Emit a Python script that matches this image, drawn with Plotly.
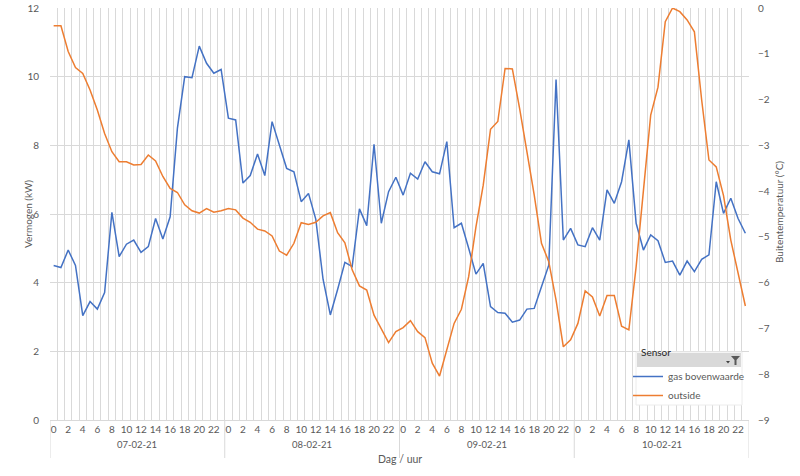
import plotly.graph_objects as go

days = ["07-02-21", "08-02-21", "09-02-21", "10-02-21"]
hours = list(range(24))
hour_labels = [str(h) for h in range(0, 24, 2)]

gas = [
    4.50, 4.44, 4.95, 4.50, 3.04, 3.45, 3.23, 3.71, 6.05, 4.76, 5.12, 5.24,
    4.88, 5.05, 5.87, 5.27, 5.92, 8.50, 10.00, 9.97, 10.89, 10.39, 10.10, 10.21,
    8.79, 8.74, 6.90, 7.12, 7.75, 7.12, 8.69, 8.00, 7.33, 7.23, 6.36, 6.60,
    5.85, 4.10, 3.06, 3.80, 4.59, 4.47, 6.15, 5.66, 8.03, 5.73, 6.65, 7.07,
    6.55, 7.19, 7.02, 7.52, 7.23, 7.17, 8.11, 5.60, 5.73, 5.00, 4.25, 4.56,
    3.30, 3.13, 3.11, 2.85, 2.91, 3.23, 3.25, 3.88, 4.51, 9.92, 5.24, 5.58,
    5.10, 5.05, 5.60, 5.24, 6.70, 6.31, 6.94, 8.16, 5.73, 4.95, 5.39, 5.22,
    4.59, 4.63, 4.22, 4.63, 4.32, 4.68, 4.81, 6.94, 6.02, 6.46, 5.87, 5.44,
]

outside = [
    -0.39, -0.39, -0.95, -1.30, -1.43, -1.79, -2.23, -2.74, -3.14, -3.36, -3.36, -3.43,
    -3.42, -3.21, -3.34, -3.68, -3.94, -4.03, -4.30, -4.43, -4.48, -4.38, -4.46, -4.43,
    -4.38, -4.41, -4.59, -4.68, -4.83, -4.87, -4.98, -5.31, -5.40, -5.14, -4.69, -4.73,
    -4.68, -4.54, -4.47, -4.91, -5.13, -5.72, -6.07, -6.16, -6.71, -7.00, -7.31, -7.07,
    -6.98, -6.83, -7.07, -7.20, -7.76, -8.04, -7.47, -6.89, -6.58, -5.87, -4.78, -3.87,
    -2.65, -2.48, -1.32, -1.33, -2.20, -3.14, -4.08, -5.14, -5.54, -6.38, -7.40, -7.25,
    -6.89, -6.18, -6.31, -6.73, -6.28, -6.28, -6.95, -7.03, -5.65, -3.99, -2.34, -1.73,
    -0.30, 0.00, -0.08, -0.26, -0.52, -2.01, -3.32, -3.47, -4.10, -5.07, -5.76, -6.51,
]

n = len(days) * len(hours)
xs = list(range(n))
tickvals = [d * 24 + int(h) for d in range(len(days)) for h in hour_labels]
ticktext = [h for d in range(len(days)) for h in hour_labels]

FONT = "Lato"
GRAY = "#595959"
GRID = "#d9d9d9"

# plot area in pixels: x 50..749, y 8..420
L, R, T, B = 50, 749, 8, 420
def px(xp):
    return (xp - L) / (R - L)
def py(yp):
    return (B - yp) / (B - T)

fig = go.Figure()
fig.add_trace(go.Scatter(x=xs, y=gas, name="gas bovenwaarde", mode="lines",
                         line=dict(color="#4472C4", width=1.5), yaxis="y"))
fig.add_trace(go.Scatter(x=xs, y=outside, name="outside", mode="lines",
                         line=dict(color="#ED7D31", width=1.5), yaxis="y2"))

shapes = []
# day group separators below the axis
for d in range(len(days) + 1):
    shapes.append(dict(type="line", xref="x", yref="paper", x0=d * 24 - 0.5, x1=d * 24 - 0.5,
                       y0=0, y1=py(458), line=dict(color=GRID, width=1), layer="below"))
# legend box + header
shapes.append(dict(type="rect", xref="paper", yref="paper", x0=px(636), x1=px(742),
                   y0=py(352), y1=py(405), fillcolor="white", line=dict(color="#ececec", width=1),
                   layer="above"))
shapes.append(dict(type="rect", xref="paper", yref="paper", x0=px(637), x1=px(741),
                   y0=py(353), y1=py(367), fillcolor="#d9d9d9", line=dict(width=0),
                   layer="above"))
# funnel icon
fx0, fy0 = 731, 356
shapes.append(dict(type="path", xref="paper", yref="paper",
                   path=(f"M {px(fx0)},{py(fy0)} L {px(fx0+9)},{py(fy0)} L {px(fx0+5.5)},{py(fy0+4)} "
                         f"L {px(fx0+5.5)},{py(fy0+9)} L {px(fx0+3.5)},{py(fy0+9)} L {px(fx0+3.5)},{py(fy0+4)} Z"),
                   fillcolor="#595959", line=dict(width=0), layer="above"))
shapes.append(dict(type="path", xref="paper", yref="paper",
                   path=f"M {px(726)},{py(361)} L {px(730)},{py(361)} L {px(728)},{py(363.5)} Z",
                   fillcolor="#404040", line=dict(width=0), layer="above"))

annotations = []
for d, day in enumerate(days):
    annotations.append(dict(text=day, x=d * 24 + 11.5, xref="x", y=py(452), yref="paper",
                            showarrow=False, font=dict(family=FONT, size=9.5, color=GRAY)))
annotations.append(dict(text="Dag / uur", x=px(400), xref="paper", y=py(467), yref="paper",
                        showarrow=False, font=dict(family=FONT, size=10.5, color=GRAY)))
annotations.append(dict(text="Vermogen (kW)", x=px(20), xref="paper", y=py(214), yref="paper",
                        showarrow=False, textangle=-90, font=dict(family=FONT, size=10, color=GRAY)))
annotations.append(dict(text="Buitentemperatuur (°C)", x=px(787), xref="paper", y=py(212), yref="paper",
                        showarrow=False, textangle=-90, font=dict(family=FONT, size=10, color=GRAY)))
annotations.append(dict(text="Sensor", x=px(639), xref="paper", y=py(360), yref="paper",
                        xanchor="left", showarrow=False, font=dict(family=FONT, size=10, color="#262626")))

fig.update_layout(
    template="none",
    width=800, height=476,
    margin=dict(l=L, r=800 - R, t=T, b=476 - B, autoexpand=False),
    paper_bgcolor="white", plot_bgcolor="white",
    font=dict(family=FONT, size=10, color=GRAY),
    xaxis=dict(range=[-0.5, n - 0.5], tickmode="array", tickvals=tickvals, ticktext=ticktext,
               showgrid=False, zeroline=False, ticks="", showline=True, linecolor=GRID, linewidth=1,
               automargin=False, tickfont=dict(family=FONT, size=10, color=GRAY),
               minor=dict(tick0=-0.5, dtick=1, showgrid=True, gridcolor=GRID, gridwidth=1, ticks="")),
    yaxis=dict(range=[0, 12], dtick=2, showgrid=True, gridcolor=GRID, gridwidth=1, zeroline=False,
               ticks="", ticklabelstandoff=10, automargin=False, showline=False,
               tickfont=dict(family=FONT, size=10, color=GRAY)),
    yaxis2=dict(range=[-9, 0], dtick=1, overlaying="y", side="right", showgrid=False,
                zeroline=False, ticks="", ticklabelstandoff=8, automargin=False, showline=False,
                tickfont=dict(family=FONT, size=10, color=GRAY)),
    showlegend=True,
    legend=dict(x=px(628), y=py(362), xanchor="left", yanchor="top", bgcolor="rgba(0,0,0,0)",
                font=dict(family=FONT, size=10, color=GRAY), itemwidth=30, tracegroupgap=0,
                borderwidth=0),
    shapes=shapes,
    annotations=annotations,
)

fig.write_html("out.html", config={"displayModeBar": False},
               post_script="document.body.style.margin='0';")
